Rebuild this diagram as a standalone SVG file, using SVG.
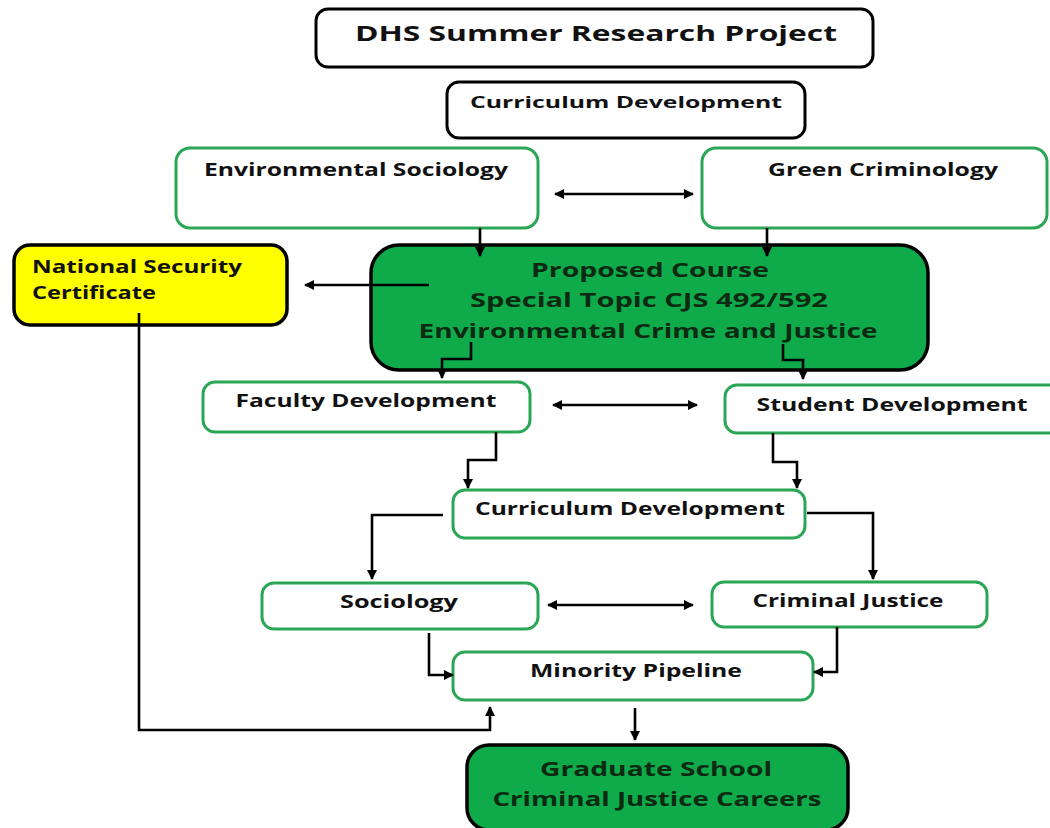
<svg xmlns="http://www.w3.org/2000/svg" width="1050" height="828" viewBox="0 0 1050 828">
<defs>
<marker id="ah" viewBox="0 0 10 10" refX="9" refY="5" markerWidth="10" markerHeight="10" markerUnits="userSpaceOnUse" orient="auto-start-reverse">
<path d="M0,0 L10,5 L0,10 z" fill="#000"/>
</marker>
<style>
.g{fill:#fff;stroke:#2aa655;stroke-width:3}
.b{fill:#fff;stroke:#000;stroke-width:3}
.dg{fill:#0fab4b;stroke:#000;stroke-width:3.5}
.y{fill:#ffff00;stroke:#000;stroke-width:3.5}
text{font-family:"Open Sans","Liberation Sans",sans-serif;font-weight:700;fill:#111;text-anchor:middle}
.dt{fill:#0c2a12}
.c{fill:none;stroke:#000;stroke-width:2.6}
.a{marker-end:url(#ah)}
.ab{marker-start:url(#ah);marker-end:url(#ah)}
</style>
</defs>
<rect width="1050" height="828" fill="#fff"/>
<g id="dhs">
<rect class="b" x="316" y="9" width="557" height="58" rx="12"/>
<text x="596" y="41" font-size="21" textLength="482" lengthAdjust="spacingAndGlyphs">DHS Summer Research Project</text>
</g>
<g id="curriculum-top">
<rect class="b" x="447" y="82" width="358" height="56" rx="12"/>
<text x="626" y="108" font-size="16" textLength="312" lengthAdjust="spacingAndGlyphs">Curriculum Development</text>
</g>
<g id="env-soc">
<rect class="g" x="176" y="148" width="362" height="80" rx="14"/>
<text x="356" y="176" font-size="17" textLength="304" lengthAdjust="spacingAndGlyphs">Environmental Sociology</text>
</g>
<g id="green-crim">
<rect class="g" x="702" y="148" width="345" height="80" rx="14"/>
<text x="883" y="176" font-size="17" textLength="230" lengthAdjust="spacingAndGlyphs">Green Criminology</text>
</g>
<g id="nsc">
<rect class="y" x="14" y="245" width="273" height="80" rx="16"/>
<text x="32" y="273" font-size="17" style="text-anchor:start" textLength="210" lengthAdjust="spacingAndGlyphs">National Security</text>
<text x="32" y="299" font-size="17" style="text-anchor:start" textLength="124" lengthAdjust="spacingAndGlyphs">Certificate</text>
</g>
<g id="proposed">
<rect class="dg" x="371" y="245" width="557" height="125" rx="28"/>
<text class="dt" x="650" y="277" font-size="20" textLength="238" lengthAdjust="spacingAndGlyphs">Proposed Course</text>
<text class="dt" x="649" y="307" font-size="20" textLength="358" lengthAdjust="spacingAndGlyphs">Special Topic CJS 492/592</text>
<text class="dt" x="648" y="338" font-size="20" textLength="459" lengthAdjust="spacingAndGlyphs">Environmental Crime and Justice</text>
</g>
<g id="faculty">
<rect class="g" x="203" y="382" width="327" height="50" rx="12"/>
<text x="366" y="407" font-size="17" textLength="261" lengthAdjust="spacingAndGlyphs">Faculty Development</text>
</g>
<g id="student">
<rect class="g" x="725" y="385" width="340" height="48" rx="12"/>
<text x="892" y="411" font-size="17" textLength="271" lengthAdjust="spacingAndGlyphs">Student Development</text>
</g>
<g id="curriculum-mid">
<rect class="g" x="453" y="490" width="352" height="48" rx="12"/>
<text x="630" y="515" font-size="17" textLength="310" lengthAdjust="spacingAndGlyphs">Curriculum Development</text>
</g>
<g id="sociology">
<rect class="g" x="262" y="583" width="276" height="46" rx="12"/>
<text x="399" y="608" font-size="17" textLength="118" lengthAdjust="spacingAndGlyphs">Sociology</text>
</g>
<g id="criminal-justice">
<rect class="g" x="712" y="582" width="275" height="45" rx="12"/>
<text x="848" y="607" font-size="17" textLength="191" lengthAdjust="spacingAndGlyphs">Criminal Justice</text>
</g>
<g id="minority">
<rect class="g" x="453" y="652" width="360" height="48" rx="12"/>
<text x="636" y="677" font-size="17" textLength="212" lengthAdjust="spacingAndGlyphs">Minority Pipeline</text>
</g>
<g id="graduate">
<rect class="dg" x="467" y="745" width="381" height="85" rx="22"/>
<text class="dt" x="656" y="776" font-size="19" textLength="232" lengthAdjust="spacingAndGlyphs">Graduate School</text>
<text class="dt" x="657" y="806" font-size="19" textLength="329" lengthAdjust="spacingAndGlyphs">Criminal Justice Careers</text>
</g>
<g id="connectors">
<line class="c ab" x1="555" y1="194" x2="693" y2="194"/>
<polyline class="c a" points="480,228 480,256"/>
<polyline class="c a" points="767,228 767,256"/>
<polyline class="c a" points="429,285 305,285"/>
<polyline class="c a" points="139,313 139,730 490,730 490,707"/>
<polyline class="c a" points="471,342 471,359 442,359 442,378"/>
<polyline class="c a" points="783,344 783,360 803,360 803,379"/>
<line class="c ab" x1="553" y1="405" x2="697" y2="405"/>
<polyline class="c a" points="496,432 496,460 468,460 468,488"/>
<polyline class="c a" points="773,433 773,462 797,462 797,488"/>
<polyline class="c a" points="443,515 372,515 372,579"/>
<polyline class="c a" points="807,513 873,513 873,579"/>
<line class="c ab" x1="548" y1="605" x2="693" y2="605"/>
<polyline class="c a" points="429,633 429,675 453,675"/>
<polyline class="c a" points="837,627 837,672 814,672"/>
<polyline class="c a" points="635,708 635,740"/>
</g>
</svg>
